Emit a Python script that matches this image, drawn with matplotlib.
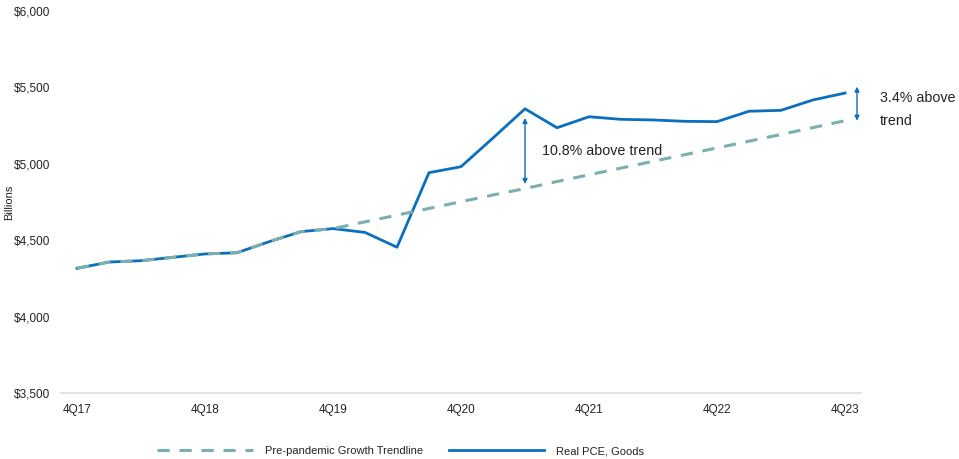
import matplotlib
matplotlib.use("Agg")
import matplotlib.pyplot as plt

plt.rcParams['font.family'] = ['Liberation Sans', 'DejaVu Sans']

quarters = ['4Q17', '1Q18', '2Q18', '3Q18', '4Q18', '1Q19', '2Q19', '3Q19',
            '4Q19', '1Q20', '2Q20', '3Q20', '4Q20', '1Q21', '2Q21', '3Q21',
            '4Q21', '1Q22', '2Q22', '3Q22', '4Q22', '1Q23', '2Q23', '3Q23', '4Q23']
real_pce_goods = [4316, 4357, 4366, 4388, 4410, 4418, 4490, 4556,
                  4576, 4551, 4454, 4942, 4981, 5169, 5360, 5236,
                  5308, 5291, 5287, 5278, 5276, 5344, 5350, 5418, 5463]
trendline = [4316, 4357, 4366, 4388, 4410, 4418, 4490, 4556,
             4576, 4620, 4664, 4708, 4752, 4796, 4838, 4884,
             4928, 4972, 5016, 5060, 5104, 5148, 5192, 5237, 5282]
tick_labels = ['4Q17', '4Q18', '4Q19', '4Q20', '4Q21', '4Q22', '4Q23']
y_ticks = [3500, 4000, 4500, 5000, 5500, 6000]

blue = '#0B6FBE'
teal = '#7AAFAE'

fig = plt.figure(figsize=(9.59, 4.59), dpi=100)
ax = fig.add_axes([0.0636, 0.1438, 0.8342, 0.8322])

x = list(range(len(quarters)))
ax.plot(x, real_pce_goods, color=blue, lw=2.0, label='Real PCE, Goods', zorder=2)
ax.plot(x, trendline, color=teal, lw=2.2, ls=(0, (4, 3.2)),
        label='Pre-pandemic Growth Trendline', zorder=3)

ax.set_xlim(-0.5, len(quarters) - 0.5)
ax.set_ylim(3500, 6000)
ax.set_yticks(y_ticks)
ax.set_yticklabels(['${:,}'.format(v) for v in y_ticks])
tick_pos = [quarters.index(t) for t in tick_labels]
ax.set_xticks(tick_pos)
ax.set_xticklabels(tick_labels)
ax.tick_params(axis='both', length=0, labelsize=8.5, colors='#222222')
ax.tick_params(axis='y', pad=8)
ax.tick_params(axis='x', pad=8)

for s in ['top', 'right', 'left']:
    ax.spines[s].set_visible(False)
ax.spines['bottom'].set_color('#DDDDDD')
ax.spines['bottom'].set_linewidth(1.2)

ax.set_ylabel('Billions', fontsize=8, color='#222222')
ax.yaxis.set_label_coords(-0.058, 0.5)

# Annotations
i1 = quarters.index('2Q21')
ax.annotate('', xy=(i1, 4868), xytext=(i1, 5300),
            arrowprops=dict(arrowstyle='<|-|>', color=blue, lw=1.0,
                            mutation_scale=7, shrinkA=0, shrinkB=0))
ax.text(i1 + 0.53, 5084, '10.8% above trend', fontsize=10.3, color='#222222',
        va='center', ha='left')

i2 = quarters.index('4Q23')
ax.annotate('', xy=(i2 + 0.375, 5282), xytext=(i2 + 0.375, 5505),
            arrowprops=dict(arrowstyle='<|-|>', color=blue, lw=1.0,
                            mutation_scale=7, shrinkA=0, shrinkB=0))
ax.text(i2 + 1.1, 5355, '3.4% above\ntrend', fontsize=10.3, color='#222222',
        va='center', ha='left', linespacing=1.75, clip_on=False)

handles, labels = ax.get_legend_handles_labels()
leg = fig.legend(handles[::-1], labels[::-1], loc='center', ncol=2,
                 bbox_to_anchor=(0.418, 0.017), frameon=False, fontsize=8,
                 handlelength=8.6, handletextpad=1.1, columnspacing=2.3)
for t in leg.get_texts():
    t.set_color('#222222')

fig.savefig('out.png', dpi=100)
